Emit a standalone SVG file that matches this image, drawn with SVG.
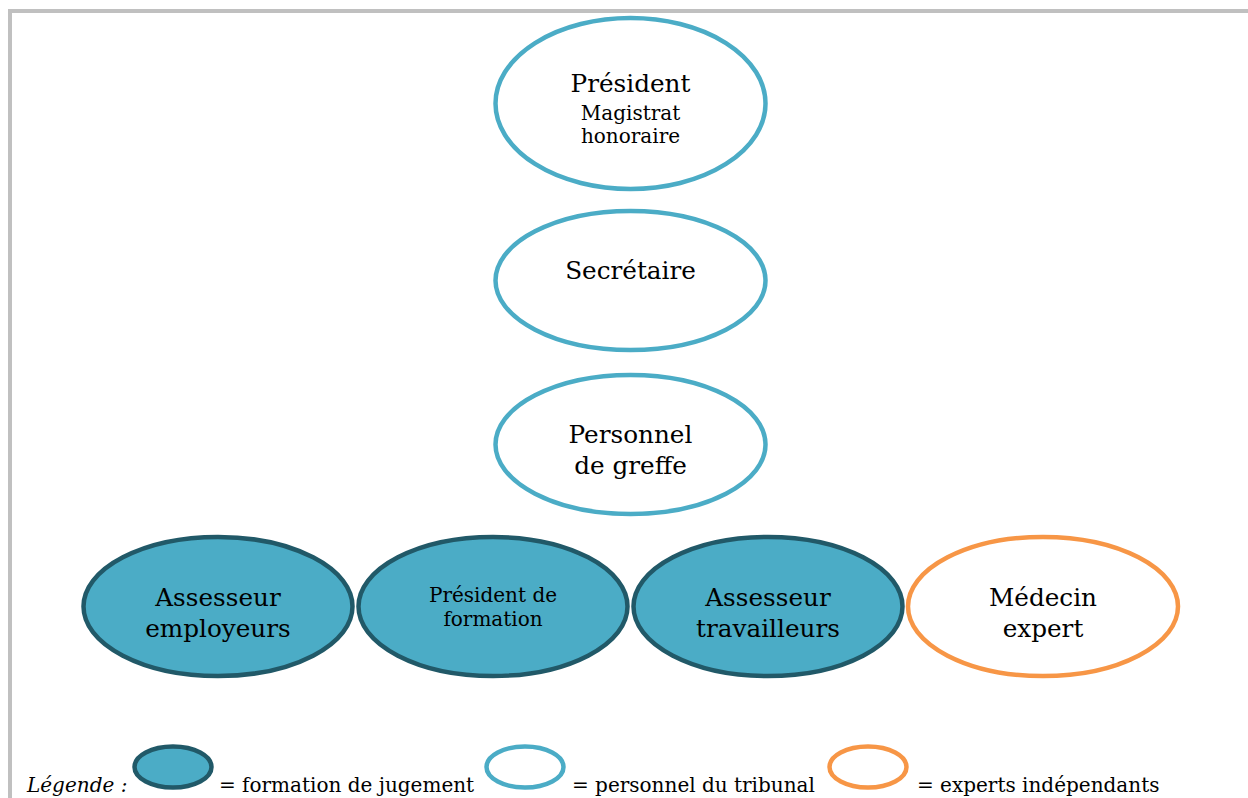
<svg xmlns="http://www.w3.org/2000/svg" width="1248" height="798" viewBox="0 0 1248 798">
<style>
.t{font-family:"DejaVu Serif","Liberation Serif",serif;fill:#000;text-anchor:middle}
.big{font-size:24.7px}
.sm{font-size:20px}
.leg{font-family:"DejaVu Serif","Liberation Serif",serif;font-size:20px;fill:#000}
.jug{fill:#4bacc6;stroke:#215968;stroke-width:4.5}
.per{fill:#fff;stroke:#4bacc6;stroke-width:4.5}
.exp{fill:#fff;stroke:#f79646;stroke-width:4.5}
</style>
<rect width="1248" height="798" fill="#fff"/>
<path d="M10 798 V11 H1248" fill="none" stroke="#c0c0c0" stroke-width="4"/>
<g id="president">
<ellipse class="per" cx="630.5" cy="103.5" rx="135" ry="85.5"/>
<text class="t big" x="630.5" y="92">Président</text>
<text class="t sm" x="630.5" y="120">Magistrat</text>
<text class="t sm" x="630.5" y="143">honoraire</text>
</g>
<g id="secretaire">
<ellipse class="per" cx="630.5" cy="280.5" rx="135" ry="69.5"/>
<text class="t big" x="630.5" y="279">Secrétaire</text>
</g>
<g id="greffe">
<ellipse class="per" cx="630.5" cy="444.5" rx="135" ry="69.5"/>
<text class="t big" x="630.5" y="443">Personnel</text>
<text class="t big" x="630.5" y="474">de greffe</text>
</g>
<g id="assesseur-employeurs">
<ellipse class="jug" cx="218" cy="606.5" rx="134.5" ry="69.5"/>
<text class="t big" x="218" y="606">Assesseur</text>
<text class="t big" x="218" y="637">employeurs</text>
</g>
<g id="president-formation">
<ellipse class="jug" cx="493" cy="606.5" rx="134.5" ry="69.5"/>
<text class="t sm" x="493" y="602">Président de</text>
<text class="t sm" x="493" y="626">formation</text>
</g>
<g id="assesseur-travailleurs">
<ellipse class="jug" cx="768" cy="606.5" rx="134.5" ry="69.5"/>
<text class="t big" x="768" y="606">Assesseur</text>
<text class="t big" x="768" y="637">travailleurs</text>
</g>
<g id="medecin">
<ellipse class="exp" cx="1043" cy="606.5" rx="135" ry="69.5"/>
<text class="t big" x="1043" y="606">Médecin</text>
<text class="t big" x="1043" y="637">expert</text>
</g>
<g id="connectors"></g>
<g id="legende">
<text class="leg" x="27" y="792" font-style="italic">Légende :</text>
<ellipse class="jug" cx="173" cy="767" rx="38.5" ry="20.5" stroke-width="4"/>
<text class="leg" x="219" y="792">= formation de jugement</text>
<ellipse class="per" cx="525" cy="767" rx="38.5" ry="20.5" stroke-width="4"/>
<text class="leg" x="572" y="792">= personnel du tribunal</text>
<ellipse class="exp" cx="868" cy="767" rx="38.5" ry="20.5" stroke-width="4"/>
<text class="leg" x="917" y="792">= experts indépendants</text>
</g>
</svg>
